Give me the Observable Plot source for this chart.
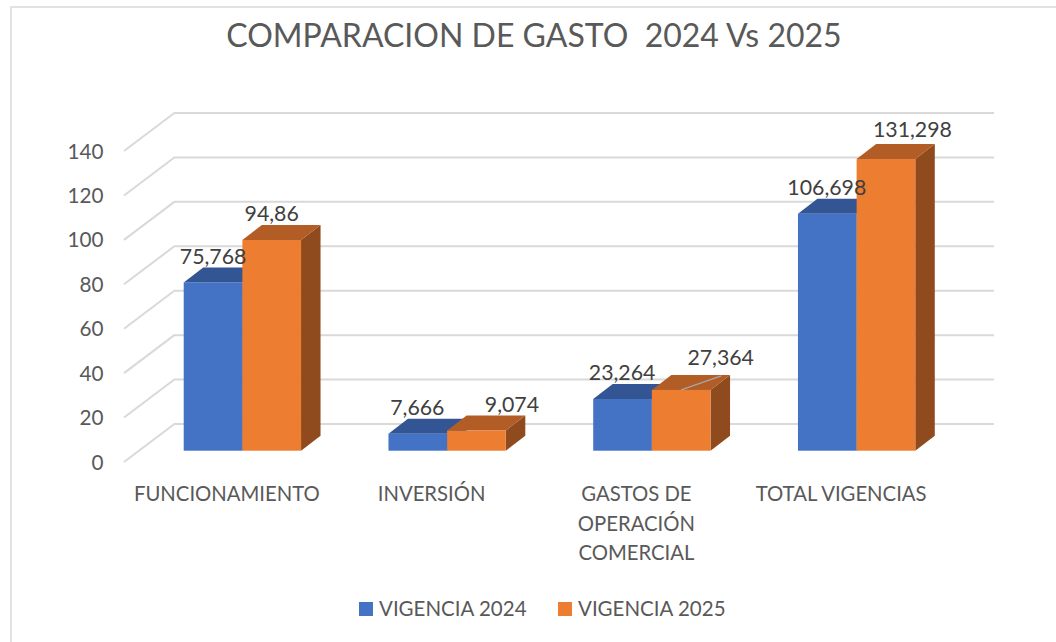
<!DOCTYPE html>
<html><head><meta charset="utf-8">
<script src="https://cdn.jsdelivr.net/npm/d3@7"></script>
<script src="https://cdn.jsdelivr.net/npm/@observablehq/plot@0.6"></script>
<style>
html,body{margin:0;padding:0;background:#fff;overflow:hidden}
#page{position:relative;width:1056px;height:642px;font-family:Lato,sans-serif;color:#595959}
#frame{position:absolute;left:10px;top:6px;width:1060px;height:650px;border-left:2px solid #e2e2e2;border-top:2px solid #e2e2e2;box-sizing:border-box}
#title{position:absolute;left:0;top:0;width:1068px;height:70px;line-height:70px;text-align:center;font-size:32px;white-space:pre}
#chart{position:absolute;left:0;top:70px}
#legend{position:absolute;left:0;top:580px;width:1056px;height:62px}
.key{position:absolute;top:22px;width:14px;height:14px}
.lab{position:absolute;top:16px;font-size:20.5px;line-height:24px;white-space:nowrap}
</style></head><body>
<div id="page"><div id="frame"></div><div id="title">COMPARACION DE GASTO  2024 Vs 2025</div><div id="chart"></div><div id="legend"></div></div>
<script>
const categories = ["FUNCIONAMIENTO", "INVERSIÓN", "GASTOS DE\nOPERACIÓN\nCOMERCIAL", "TOTAL VIGENCIAS"];
const seriesNames = ["VIGENCIA 2024", "VIGENCIA 2025"];
const values2024 = [75.768, 7.666, 23.264, 106.698];
const values2025 = [94.86, 9.074, 27.364, 131.298];
const labels2024 = ["75,768", "7,666", "23,264", "106,698"];
const labels2025 = ["94,86", "9,074", "27,364", "131,298"];
const yTicks = [0, 20, 40, 60, 80, 100, 120, 140];

const blue = {front: "#4472C4", top: "#335593", side: "#2A4679"};
const orange = {front: "#ED7D31", top: "#B25D25", side: "#8F4B1D"};
const rows = s => categories.map((c, i) => ({category: c, value: s.values[i], label: s.labels[i], i}));
const s24 = {values: values2024, labels: labels2024, color: blue, first: true};
const s25 = {values: values2025, labels: labels2025, color: orange, first: false};

// projection of the 3D box (pixels of oblique depth)
const wall = {dx: 51, dy: -38.5};
const barFront = {dx: 16, dy: -11.3};
const barDepth = {dx: 19.5, dy: -15};

const svgNS = "http://www.w3.org/2000/svg";
function polygon(pts, fill) {
  const p = document.createElementNS(svgNS, "polygon");
  p.setAttribute("points", pts.map(q => q.join(",")).join(" "));
  p.setAttribute("fill", fill);
  return p;
}
// top and side faces, placed through the chart's x and y scales
function boxFaces(series) {
  return (index, scales) => {
    const g = document.createElementNS(svgNS, "g");
    const half = scales.x.bandwidth() / 2;
    series.values.forEach((v, i) => {
      const x0 = scales.x(categories[i]) + barFront.dx + (series.first ? 0 : half);
      const x1 = x0 + half;
      const yt = scales.y(v) + barFront.dy;
      const yb = scales.y(0) + barFront.dy;
      const {dx, dy} = barDepth;
      g.append(polygon([[x1, yt], [x1 + dx, yt + dy], [x1 + dx, yb + dy], [x1, yb]], series.color.side));
      g.append(polygon([[x0, yt], [x0 + dx, yt + dy], [x1 + dx, yt + dy], [x1, yt]], series.color.top));
    });
    return g;
  };
}
function wallDiagonals() {
  return (index, scales) => {
    const g = document.createElementNS(svgNS, "g");
    const x0 = scales.x.range()[0];
    yTicks.forEach(t => {
      const l = document.createElementNS(svgNS, "line");
      l.setAttribute("x1", x0); l.setAttribute("y1", scales.y(t));
      l.setAttribute("x2", x0 + wall.dx); l.setAttribute("y2", scales.y(t) + wall.dy);
      l.setAttribute("stroke", "#d9d9d9"); l.setAttribute("stroke-width", 2);
      g.append(l);
    });
    return g;
  };
}
function leader(i) {
  return (index, scales) => {
    const half = scales.x.bandwidth() / 2;
    const x = scales.x(categories[i]) + barFront.dx + half * 1.5;
    const y = scales.y(values2025[i]) + barFront.dy;
    const l = document.createElementNS(svgNS, "line");
    l.setAttribute("x1", x); l.setAttribute("y1", y);
    l.setAttribute("x2", x + 40); l.setAttribute("y2", y - 14);
    l.setAttribute("stroke", "#a6a6a6"); l.setAttribute("stroke-width", 1.5);
    return l;
  };
}
const bar = s => Plot.barY(rows(s), {
  x: "category", y: "value", fill: s.color.front,
  dx: barFront.dx, dy: barFront.dy,
  insetRight: s.first ? 58.65 : 0, insetLeft: s.first ? 0 : 58.65
});
// hand-placed data labels, as in the source chart
const offsets24 = [[-0.5, -26], [-1, -26], [-1, -26], [-1, -26]];
const offsets25 = [[-0.5, -26], [35, -26], [39, -32], [26, -29]];
const dataLabel = (s, offs) => rows(s).map((r, i) => Plot.text([r], {
  x: "category", y: "value", text: "label",
  dx: barFront.dx + (s.first ? -29.3 : 29.3) + offs[i][0],
  dy: barFront.dy + offs[i][1],
  fill: "#404040", fontSize: 21.3, stroke: "none"
}));

const plot = Plot.plot({
  width: 1056, height: 510,
  marginLeft: 124, marginRight: 113, marginTop: 81, marginBottom: 118,
  style: {fontFamily: "Lato, sans-serif", background: "transparent", overflow: "visible"},
  x: {domain: categories, paddingInner: 0.427, paddingOuter: 0.2135, round: false, label: null},
  y: {domain: [0, 140], label: null},
  marks: [
    Plot.ruleY(yTicks, {dx: wall.dx, dy: wall.dy, stroke: "#d9d9d9", strokeWidth: 2}),
    wallDiagonals(),
    boxFaces(s24), bar(s24),
    boxFaces(s25), bar(s25),
    leader(2),
    Plot.axisY({ticks: yTicks, tickSize: 0, tickPadding: 21, dy: 0.5, fontSize: 20.7, fill: "#595959", label: null}),
    Plot.axisX({tickSize: 0, tickPadding: 18, fontSize: 20.3, fill: "#595959", lineHeight: 1.45, label: null, textOverflow: null, lineWidth: Infinity}),
    ...dataLabel(s24, offsets24),
    ...dataLabel(s25, offsets25)
  ]
});
document.getElementById("chart").append(plot);

const legend = document.getElementById("legend");
[[s24, 359], [s25, 558]].forEach(([s, left], i) => {
  const k = document.createElement("div"); k.className = "key";
  k.style.left = left + "px"; k.style.background = s.color.front;
  const t = document.createElement("div"); t.className = "lab";
  t.style.left = (left + 20) + "px"; t.textContent = seriesNames[i];
  legend.append(k, t);
});
</script></body></html>
